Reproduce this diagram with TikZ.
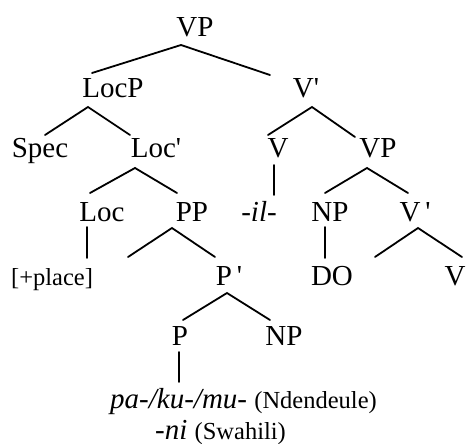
\documentclass[tikz,border=0pt]{standalone}
\usepackage{fontspec}
\setmainfont{Liberation Serif}
\newcommand{\pr}{\textquotesingle}
\begin{document}
\begin{tikzpicture}[x=1pt,y=-1pt,
  lbl/.style={anchor=base,inner sep=0pt,font=\fontsize{29}{34}\selectfont},
  sm/.style={font=\fontsize{24.5}{28}\selectfont},
  br/.style={line width=1.8pt,line cap=round}]
\useasboundingbox (0,0) rectangle (467,444);
% row 1
\node[lbl] (vp) at (195,37) {VP};
% row 2
\node[lbl] (locp) at (113,98) {LocP};
\node[lbl] (vbar) at (306,98) {V\pr};
% row 3
\node[lbl] (spec) at (40,158) {Spec};
\node[lbl] (locbar) at (156,158) {Loc\pr};
\node[lbl] (v) at (278,158) {V};
\node[lbl] (vp2) at (378,158) {VP};
% row 4
\node[lbl] (loc) at (102,222) {Loc};
\node[lbl] (pp) at (192,222) {PP};
\node[lbl] (il) at (259,222) {\textit{-il-}};
\node[lbl] (np) at (330,222) {NP};
\node[lbl] (vbar2) at (415,222) {V\,\pr};
% row 5
\node[lbl,sm] (place) at (52,286) {[+place]};
\node[lbl] (pbar) at (229,286) {P\,\pr};
\node[lbl] (do) at (332,286) {DO};
\node[lbl] (v2) at (455,286) {V};
% row 6
\node[lbl] (p) at (180,345) {P};
\node[lbl] (np2) at (284,345) {NP};
% rows 7-8
\node[lbl,anchor=base west] (pa) at (110,408) {\textit{pa-/ku-/mu-} {\fontsize{24.5}{28}\selectfont(Ndendeule)}};
\node[lbl,anchor=base west] (ni) at (155,439) {\textit{-ni} {\fontsize{24.5}{28}\selectfont(Swahili)}};
% free ends
\coordinate (ppL) at (128,257);
\coordinate (vbL) at (375,257);
% branches
\draw[br] ([shift={(-21,-25)}]locp.base) -- ([shift={(-14,8)}]vp.base) -- ([shift={(-36,-23)}]vbar.base);
\draw[br] ([shift={(5,-23)}]spec.base) -- ([shift={(-25,9)}]locp.base) -- ([shift={(-26,-23)}]locbar.base);
\draw[br] ([shift={(-10,-23)}]v.base) -- ([shift={(6,9)}]vbar.base) -- ([shift={(-23,-21)}]vp2.base);
\draw[br] ([shift={(-12,-29)}]loc.base) -- ([shift={(-21,10)}]locbar.base) -- ([shift={(-15,-29)}]pp.base);
\draw[br] ([shift={(-4,7)}]v.base) -- ([shift={(15,-27)}]il.base);
\draw[br] ([shift={(-5,-29)}]np.base) -- ([shift={(-11,10)}]vp2.base) -- ([shift={(-7,-29)}]vbar2.base);
\draw[br] ([shift={(-15,5)}]loc.base) -- ([shift={(35,-28)}]place.base);
\draw[br] (ppL) -- ([shift={(-20,6)}]pp.base) -- ([shift={(-14,-29)}]pbar.base);
\draw[br] ([shift={(-5,5)}]np.base) -- ([shift={(-7,-28)}]do.base);
\draw[br] (vbL) -- ([shift={(3,6)}]vbar2.base) -- ([shift={(7,-29)}]v2.base);
\draw[br] ([shift={(3,-25)}]p.base) -- ([shift={(-2,7)}]pbar.base) -- ([shift={(-14,-25)}]np2.base);
\draw[br] ([shift={(-1,7)}]p.base) -- ([shift={(69,-26)}]pa.base west);
\end{tikzpicture}
\end{document}
